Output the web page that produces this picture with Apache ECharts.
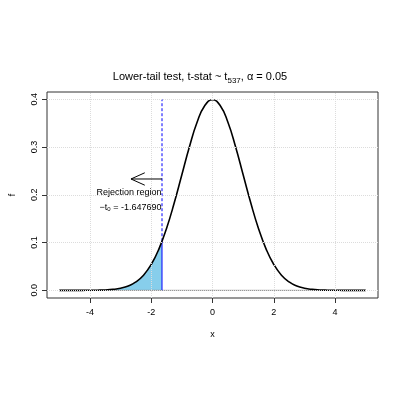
<!DOCTYPE html>
<html><head><meta charset="utf-8">
<script src="https://cdn.jsdelivr.net/npm/echarts@6/dist/echarts.min.js"></script>
<style>html,body{margin:0;padding:0;background:#fff}#c{width:400px;height:400px}</style>
</head><body><div id="c"></div>
<script>
const xs = [-5,-4.75,-4.5,-4.25,-4,-3.75,-3.5,-3.25,-3,-2.75,-2.5,-2.25,-2,-1.75,-1.5,-1.25,-1,-0.75,-0.5,-0.25,0,0.25,0.5,0.75,1,1.25,1.5,1.75,2,2.25,2.5,2.75,3,3.25,3.5,3.75,4,4.25,4.5,4.75,5];
const dens = [0.00000,0.00001,0.00002,0.00005,0.00014,0.00036,0.00089,0.00204,0.00447,0.00913,0.01758,0.03178,0.05404,0.08635,0.12958,0.18262,0.24197,0.30114,0.35207,0.38667,0.39894,0.38667,0.35207,0.30114,0.24197,0.18262,0.12958,0.08635,0.05404,0.03178,0.01758,0.00913,0.00447,0.00204,0.00089,0.00036,0.00014,0.00005,0.00002,0.00001,0.00000];
const tCrit = -1.647690;
const fCrit = 0.1028;
const xTicks = [-4,-2,0,2,4];
const yTicks = [0,0.1,0.2,0.3,0.4];
const arrowY = 0.233, arrowEndX = -2.66;

const curve = xs.map((x,i)=>[x,dens[i]]);
const area = xs.map((x,i)=>[x,dens[i]]).filter(p=>p[0]<tCrit);
area.push([tCrit,fCrit]);
const grid = {type:'dotted',color:'#dcdcdc',width:1};
const gridLines = xTicks.map(v=>({xAxis:v,lineStyle:grid})).concat(yTicks.map(v=>({yAxis:v,lineStyle:grid})));

const chart = echarts.init(document.getElementById('c'));
chart.setOption({
  animation:false,
  title:{text:'{a|Lower-tail test, t-stat ~ t}{s|537}{a|, α = 0.05}',left:'center',top:64,
    textStyle:{fontWeight:'normal',rich:{a:{fontSize:11,fontWeight:'normal',color:'#000',fontFamily:'Arial, Liberation Sans'},s:{fontSize:8,fontWeight:'normal',color:'#000',padding:[8,0,0,0],fontFamily:'Arial, Liberation Sans'}}}},
  grid:{left:41,right:22,top:92,bottom:102,show:true,borderColor:'#333',borderWidth:1},
  xAxis:{type:'value',min:-5.4,max:5.4,name:'x',nameLocation:'middle',nameGap:32,
    nameTextStyle:{fontSize:9,color:'#000'},
    axisLine:{show:false,onZero:false},splitLine:{show:false},
    axisTick:{customValues:xTicks,length:5,lineStyle:{color:'#333'}},
    axisLabel:{customValues:xTicks,fontSize:9,color:'#000',margin:10}},
  yAxis:{type:'value',min:-0.016,max:0.415,name:'f',nameLocation:'middle',nameGap:30,
    nameTextStyle:{fontSize:9,color:'#000'},
    axisLine:{show:false,onZero:false},splitLine:{show:false},
    axisTick:{show:true,customValues:yTicks,length:5,lineStyle:{color:'#333'}},
    axisLabel:{customValues:yTicks,fontSize:9,color:'#000',rotate:90,margin:8,formatter:v=>v.toFixed(1)}},
  series:[
    {type:'line',data:area,showSymbol:false,smooth:true,lineStyle:{width:0},areaStyle:{color:'#87CEEB',opacity:1},z:1,
     markLine:{silent:true,symbol:'none',label:{show:false},data:gridLines}},
    {type:'line',data:[[-5,0],[5,0]],showSymbol:false,lineStyle:{color:'#888',width:1},z:2},
    {type:'line',data:[[tCrit,0],[tCrit,fCrit]],showSymbol:false,lineStyle:{color:'#0000ff',width:1},z:3},
    {type:'line',data:[[tCrit,fCrit],[tCrit,0.4]],showSymbol:false,lineStyle:{color:'#0000ff',width:1,type:[3,2]},z:3},
    {type:'line',data:curve,showSymbol:false,smooth:true,lineStyle:{color:'#000',width:1.6},z:4},
    {type:'line',data:[[tCrit,arrowY],[arrowEndX,arrowY]],showSymbol:false,lineStyle:{color:'#000',width:1},z:5,
     markPoint:{symbol:'circle',symbolSize:1,itemStyle:{color:'rgba(0,0,0,0)'},data:[
       {coord:[tCrit,0.204],label:{show:true,formatter:'Rejection region',position:'left',distance:0,fontSize:9,color:'#000'}},
       {coord:[tCrit,0.174],label:{show:true,formatter:'{a|−t}{s|0}{a| = -1.647690}',position:'left',distance:0,
         rich:{a:{fontSize:9,color:'#000'},s:{fontSize:6,color:'#000',padding:[5,0,0,0]}}}}
     ]}},
    {type:'line',data:[[arrowEndX+0.45,arrowY+0.013],[arrowEndX,arrowY],[arrowEndX+0.45,arrowY-0.013]],showSymbol:false,lineStyle:{color:'#000',width:1},z:5}
  ]
});
</script></body></html>
